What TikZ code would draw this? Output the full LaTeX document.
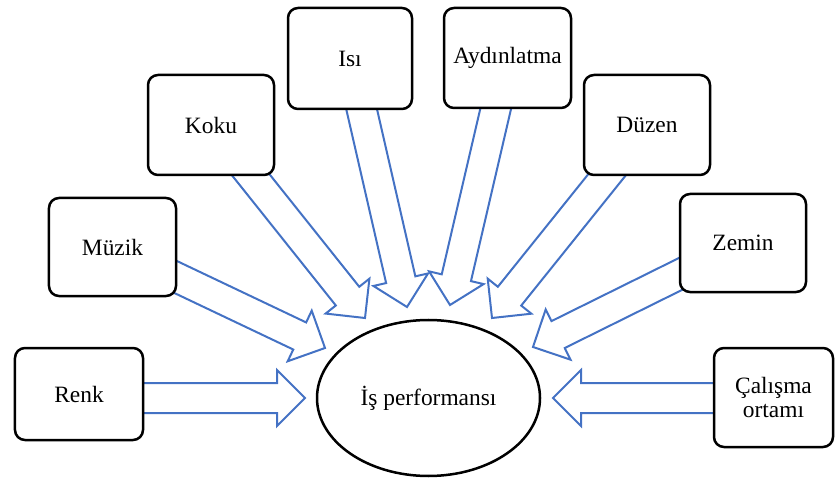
\documentclass[tikz,border=0pt]{standalone}
\usepackage{fontspec}
\setmainfont{Liberation Serif}
\usetikzlibrary{calc,backgrounds,shapes.geometric}
\definecolor{flowblue}{RGB}{68,114,196}

% hollow block arrow from #1 to the tip #2
\newcommand{\blockarrow}[2]{%
  \coordinate (hb) at ($(#2)!28bp!(#1)$);
  \draw [flow] ($(#1)!15bp!90:(#2)$) -- ($(hb)!15bp!90:(#2)$) -- ($(hb)!28bp!90:(#2)$)
    -- (#2) -- ($(hb)!28bp!-90:(#2)$) -- ($(hb)!15bp!-90:(#2)$) -- ($(#1)!15bp!-90:(#2)$);}

\begin{document}
\begin{tikzpicture}[x=1bp,y=-1bp,
  factor/.style={draw,line width=2.5bp,rounded corners=10bp,fill=white,align=center,
    font=\fontsize{23.5}{25}\selectfont,inner sep=2pt},
  perf/.style={draw,ellipse,line width=2.5bp,fill=white,font=\fontsize{23.5}{25}\selectfont},
  flow/.style={draw=flowblue,line width=2bp}]

	\useasboundingbox (0,0) rectangle (835,479);

	% The factors
	\node [factor,minimum width=128bp,minimum height=92bp] at (79,394) (renk) {Renk};
	\node [factor,minimum width=127bp,minimum height=98bp] at (112.5,247) (muzik) {Müzik};
	\node [factor,minimum width=126bp,minimum height=100bp] at (211,125) (koku) {Koku};
	\node [factor,minimum width=124bp,minimum height=101bp] at (350,58.5) (isi) {Isı};
	\node [factor,minimum width=127bp,minimum height=100bp] at (507.5,58) (aydinlatma) {Aydınlatma};
	\node [factor,minimum width=126bp,minimum height=100bp] at (647,125) (duzen) {Düzen};
	\node [factor,minimum width=126bp,minimum height=98bp] at (743,243) (zemin) {Zemin};
	\node [factor,minimum width=119bp,minimum height=99bp] at (773.5,397.5) (calisma) {Çalışma\\ortamı};

	% The centre
	\node [perf,minimum width=223bp,minimum height=156bp] at (428.5,398) (is) {İş performansı};

	% Arrow tips
	\coordinate (renktip) at (305,398);
	\coordinate (muziktip) at (325,348);
	\coordinate (kokutip) at (365,318);
	\coordinate (isitip) at (407,307);
	\coordinate (aydinlatmatip) at (450,305);
	\coordinate (duzentip) at (492,318);
	\coordinate (zemintip) at (533,347);
	\coordinate (calismatip) at (553,398);

	% Block arrows
	\begin{scope}[on background layer]
	\blockarrow{renk.center |- renktip}{renktip}
	\blockarrow{muzik}{muziktip}
	\blockarrow{koku}{kokutip}
	\blockarrow{isi}{isitip}
	\blockarrow{aydinlatma}{aydinlatmatip}
	\blockarrow{duzen}{duzentip}
	\blockarrow{zemin}{zemintip}
	\blockarrow{calisma.center |- calismatip}{calismatip}
	\end{scope}

\end{tikzpicture}
\end{document}
